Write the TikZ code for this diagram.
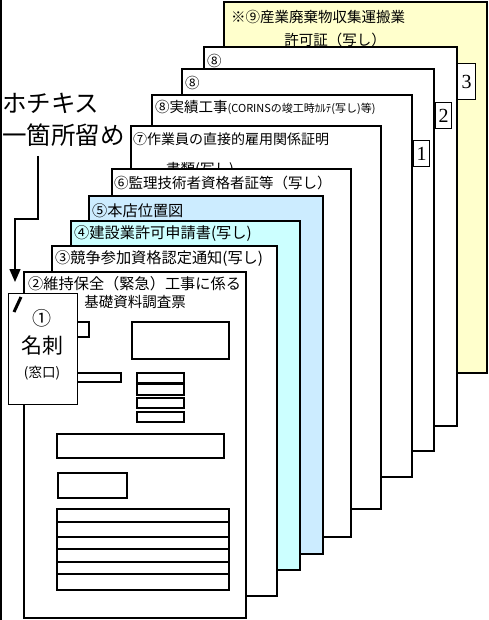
\documentclass[tikz,border=0pt]{standalone}
\usepackage{fontspec}
\setmainfont{Liberation Serif}
\newfontfamily\jp{Noto Sans CJK JP}
\usetikzlibrary{arrows.meta}
\definecolor{ylw}{HTML}{FFFFCC}
\definecolor{cyn}{HTML}{CCFFFF}
\definecolor{lbl}{HTML}{CCECFF}
\tikzset{
  sheet/.style={draw=black, line width=1.2pt, fill=white},
  frm/.style={draw=black, line width=1.1pt, fill=white},
  lab/.style={inner sep=0pt, anchor=west, font=\jp\fontsize{14.5}{17}\selectfont},
  labw/.style={inner sep=0pt, anchor=west, font=\jp\fontsize{15.2}{18}\selectfont},
  labc/.style={inner sep=0pt, font=\jp\fontsize{14.5}{17}\selectfont},
  numbox/.style={draw=black, line width=1.2pt, fill=white, inner sep=0pt, font=\fontsize{20}{22}\selectfont},
  big/.style={inner sep=0pt, anchor=west, font=\jp\fontsize{24.5}{28}\selectfont},
  conn/.style={line width=1.4pt, -{Triangle[length=13pt,width=11pt]}}
}
\begin{document}
\begin{tikzpicture}[x=1pt,y=-1pt]
\useasboundingbox (0,0) rectangle (488,620);
\fill[white] (0,0) rectangle (488,620);
\draw[line width=1.2pt] (1,0) -- (1,620);
% page 9
\draw[sheet, fill=ylw] (224,2) rectangle (487,373);
\node[lab] (t9a) at (231,17) {※⑨産業廃棄物収集運搬業};
\node[labc] (t9b) at (335,40) {許可証（写し）};
\node[numbox, minimum width=18pt, minimum height=36pt, anchor=north west] (n3) at (457,63) {3};
% page 8c
\draw[sheet] (204,47) rectangle (457,426);
\node[lab] (t8c) at (207,61) {⑧};
% page 8b
\draw[sheet] (182,69) rectangle (434,451);
\node[lab] (t8b) at (185,83) {⑧};
\node[numbox, minimum width=16pt, minimum height=26pt, anchor=north west] (n2) at (435,102) {2};
% page 8a
\draw[sheet] (152,95) rectangle (412,477);
\node[lab] (t8a) at (155,107) {⑧実績工事{\fontsize{11}{13}\selectfont (CORINSの竣工時ｶﾙﾃ(写し)等)}};
\node[numbox, minimum width=16pt, minimum height=26pt, anchor=north west] (n1) at (413,140) {1};
% page 7
\draw[sheet] (131,126) rectangle (381,509);
\node[lab, font=\jp\fontsize{14}{17}\selectfont] (t7a) at (133,139) {⑦作業員の直接的雇用関係証明};
\node[labc] (t7b) at (200,170) {書類(写し)};
% page 6
\draw[sheet] (112,169) rectangle (351,537);
\node[lab] (t6) at (114,183) {⑥監理技術者資格者証等（写し）};
% page 5
\draw[sheet, fill=lbl] (89,196) rectangle (323,554);
\node[labw] (t5) at (92,211) {⑤本店位置図};
% page 4
\draw[sheet, fill=cyn] (71,221) rectangle (300,570);
\node[labw] (t4) at (74,234) {④建設業許可申請書(写し)};
% page 3
\draw[sheet] (52,246) rectangle (277,596);
\node[labw] (t3) at (55,259) {③競争参加資格認定通知(写し)};
% page 2
\draw[sheet] (24,272) rectangle (246,618);
\node[labw] (t2a) at (28,284) {②維持保全（緊急）工事に係る};
\node[labc] (t2b) at (135,302) {基礎資料調査票};
% form boxes
\draw[frm] (60,322) rectangle (89,337);
\draw[frm] (132,322) rectangle (229,359);
\draw[frm] (60,373) rectangle (121,382);
\draw[frm] (137,373) rectangle (184,383);
\draw[frm] (137,384) rectangle (184,395);
\draw[frm] (137,398) rectangle (184,408);
\draw[frm] (137,412) rectangle (184,422);
\draw[frm] (57,434) rectangle (224,458);
\draw[frm] (58,473) rectangle (127,498);
\draw[frm] (57,509) rectangle (229,590);
\foreach \yy in {522,537,549,562,574} \draw[line width=1.3pt] (57,\yy) -- (230,\yy);
% card 1
\node[sheet, minimum width=69pt, minimum height=111pt, anchor=north west, inner sep=0pt] (card) at (8,293) {};
\node[inner sep=0pt, font=\jp\fontsize{19}{22}\selectfont] (c1) at (42,318) {①};
\node[inner sep=0pt, font=\jp\fontsize{21}{24}\selectfont] (c2) at (42,346) {名刺};
\node[inner sep=0pt, font=\jp\fontsize{13.5}{16}\selectfont] (c3) at (42,373) {(窓口)};
\draw[line width=3pt] (14,312) -- (21,297);
% staple label
\node[big] (s1) at (2,103) {ホチキス};
\node[big] (s2) at (2,135) {一箇所留め};
\coordinate (a0) at (38,156);
\coordinate (a1) at (15,282);
\draw[conn] (a0) -- (38,219) -- (15,219) -- (a1);
\end{tikzpicture}
\end{document}
